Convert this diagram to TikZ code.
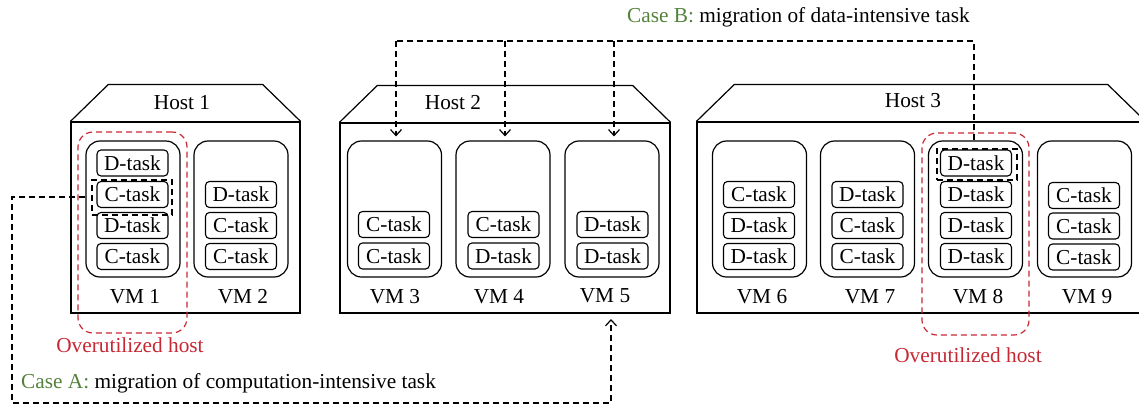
\documentclass[tikz,border=0pt]{standalone}
\usepackage{fontspec}
\setmainfont{Liberation Serif}
\usetikzlibrary{arrows.meta,calc}
\definecolor{ovred}{RGB}{198,40,52}
\definecolor{casegreen}{RGB}{84,130,60}
\tikzset{
  hostbody/.style={draw,line width=1.2pt,inner sep=0pt},
  hostroof/.style={line width=1.2pt,line join=miter},
  vmbox/.style={draw,line width=1.2pt,rounded corners=14pt,minimum width=94pt,minimum height=136pt,inner sep=0pt},
  taskbox/.style={draw,line width=1.1pt,rounded corners=4pt,minimum width=71pt,minimum height=26pt,inner sep=0pt},
  overbox/.style={draw=ovred,line width=1.2pt,dash pattern=on 6pt off 4pt,rounded corners=15pt,inner sep=0pt},
  selbox/.style={draw,line width=1.2pt,dash pattern=on 6pt off 4pt,inner sep=0pt},
  migline/.style={line width=1.2pt,dash pattern=on 6pt off 4pt},
  migarrow/.style={migline,-{Straight Barb[length=6pt,width=11pt,line width=1.2pt]}},
  vmlabel/.style={inner sep=0pt},
  overlabel/.style={text=ovred,inner sep=0pt}
}
\begin{document}
\begin{tikzpicture}[x=1pt,y=-1pt,font=\fontsize{21.3}{25}\selectfont]
\useasboundingbox (0,0) rectangle (1139,407);
\clip (0,0) rectangle (1139,407);

% host bodies and roofs
\node[hostbody,minimum width=229pt,minimum height=191pt] (h1) at (185.5,217.5) {};
\node[hostbody,minimum width=330pt,minimum height=190pt] (h2) at (505,218) {};
\node[hostbody,minimum width=448pt,minimum height=191pt] (h3) at (921,217.5) {};
\foreach \h/\d in {h1/37,h2/37,h3/37}{
  \draw[hostroof] (\h.north west) -- ++(38,-\d) -- ($(\h.north east)+(-38,-\d)$) -- (\h.north east);
}
\node (h1lab) at (182,103) {Host 1};
\node (h2lab) at (453,103) {Host 2};
\node (h3lab) at (913,101) {Host 3};

% virtual machines
\node[vmbox] (vm1) at (133,209) {};
\node[vmbox] (vm2) at (241,209) {};
\node[vmbox] (vm3) at (394.5,209) {};
\node[vmbox] (vm4) at (503,209) {};
\node[vmbox] (vm5) at (612,209) {};
\node[vmbox] (vm6) at (759.5,209) {};
\node[vmbox] (vm7) at (867.5,209) {};
\node[vmbox] (vm8) at (975.5,209) {};
\node[vmbox] (vm9) at (1084.5,209) {};

\node[vmlabel] (vm1lab) at (135,297) {VM 1};
\node[vmlabel] (vm2lab) at (243,297) {VM 2};
\node[vmlabel] (vm3lab) at (395,297) {VM 3};
\node[vmlabel] (vm4lab) at (499,297) {VM 4};
\node[vmlabel] (vm5lab) at (605,296) {VM 5};
\node[vmlabel] (vm6lab) at (762,297) {VM 6};
\node[vmlabel] (vm7lab) at (870,297) {VM 7};
\node[vmlabel] (vm8lab) at (978,297) {VM 8};
\node[vmlabel] (vm9lab) at (1087,297) {VM 9};

% tasks
\node[taskbox] (t1a) at (132.5,163)   {D-task};
\node[taskbox] (t1b) at (132.5,194.5) {C-task};
\node[taskbox] (t1c) at (132.5,225.5) {D-task};
\node[taskbox] (t1d) at (132.5,256.5) {C-task};

\node[taskbox] (t2a) at (241,194.5) {D-task};
\node[taskbox] (t2b) at (241,225.5) {C-task};
\node[taskbox] (t2c) at (241,256.5) {C-task};

\node[taskbox] (t3a) at (394,224.5) {C-task};
\node[taskbox] (t3b) at (394,256)   {C-task};
\node[taskbox] (t4a) at (503.5,224.5) {C-task};
\node[taskbox] (t4b) at (503.5,256)   {D-task};
\node[taskbox] (t5a) at (612.5,224.5) {D-task};
\node[taskbox] (t5b) at (612.5,256)   {D-task};

\node[taskbox] (t6a) at (759,194.5) {C-task};
\node[taskbox] (t6b) at (759,225.5) {D-task};
\node[taskbox] (t6c) at (759,256.5) {D-task};

\node[taskbox] (t7a) at (867.5,194.5) {D-task};
\node[taskbox] (t7b) at (867.5,225.5) {C-task};
\node[taskbox] (t7c) at (867.5,256.5) {C-task};

\node[taskbox] (t8a) at (976,163)   {D-task};
\node[taskbox] (t8b) at (976,194.5) {D-task};
\node[taskbox] (t8c) at (976,225.5) {D-task};
\node[taskbox] (t8d) at (976,256.5) {D-task};

\node[taskbox] (t9a) at (1084,195.5) {C-task};
\node[taskbox] (t9b) at (1084,226)   {C-task};
\node[taskbox] (t9c) at (1084,257)   {C-task};

% overutilized hosts
\node[overbox,minimum width=109pt,minimum height=201pt] (ov1) at (132.5,232.5) {};
\node[overbox,minimum width=107pt,minimum height=202pt] (ov2) at (975.5,234) {};
\node[overlabel] (ov1lab) at (130,345) {Overutilized host};
\node[overlabel] (ov2lab) at (968,355) {Overutilized host};

% selected tasks
\node[selbox,minimum width=80pt,minimum height=35pt] (asel) at (132,197.5) {};
\node[selbox,minimum width=80pt,minimum height=31pt] (bsel) at (977,164.5) {};

% case A: computation-intensive task to host 2
\coordinate (a1) at (12,197);
\coordinate (a2) at (12,403);
\coordinate (a3) at (611,403);
\coordinate (atgt) at (611,319);
\draw[migarrow] (vm1.west |- a1) -- (a1) -- (a2) -- (a3) -- (atgt);
\node[anchor=west,inner sep=0pt] (alab) at (21,383)
  {\textcolor{casegreen}{Case A:} migration of computation-intensive task};

% case B: data-intensive task to the VMs of host 2
\coordinate (b0) at (974,41);
\coordinate (b1) at (396,41);
\coordinate (b2) at (505,41);
\coordinate (b3) at (614,41);
\coordinate (b1t) at ($(vm3.north)+(0,-4)$);
\coordinate (b2t) at ($(vm4.north)+(0,-4)$);
\coordinate (b3t) at ($(vm5.north)+(0,-4)$);
\draw[migline] (vm8.north -| b0) -- (b0) -- (b1);
\draw[migarrow] (b1) -- (b1 |- b1t);
\draw[migarrow] (b2) -- (b2 |- b2t);
\draw[migarrow] (b3) -- (b3 |- b3t);
\node[anchor=west,inner sep=0pt] (blab) at (627,17)
  {\textcolor{casegreen}{Case B:} migration of data-intensive task};
\end{tikzpicture}
\end{document}
